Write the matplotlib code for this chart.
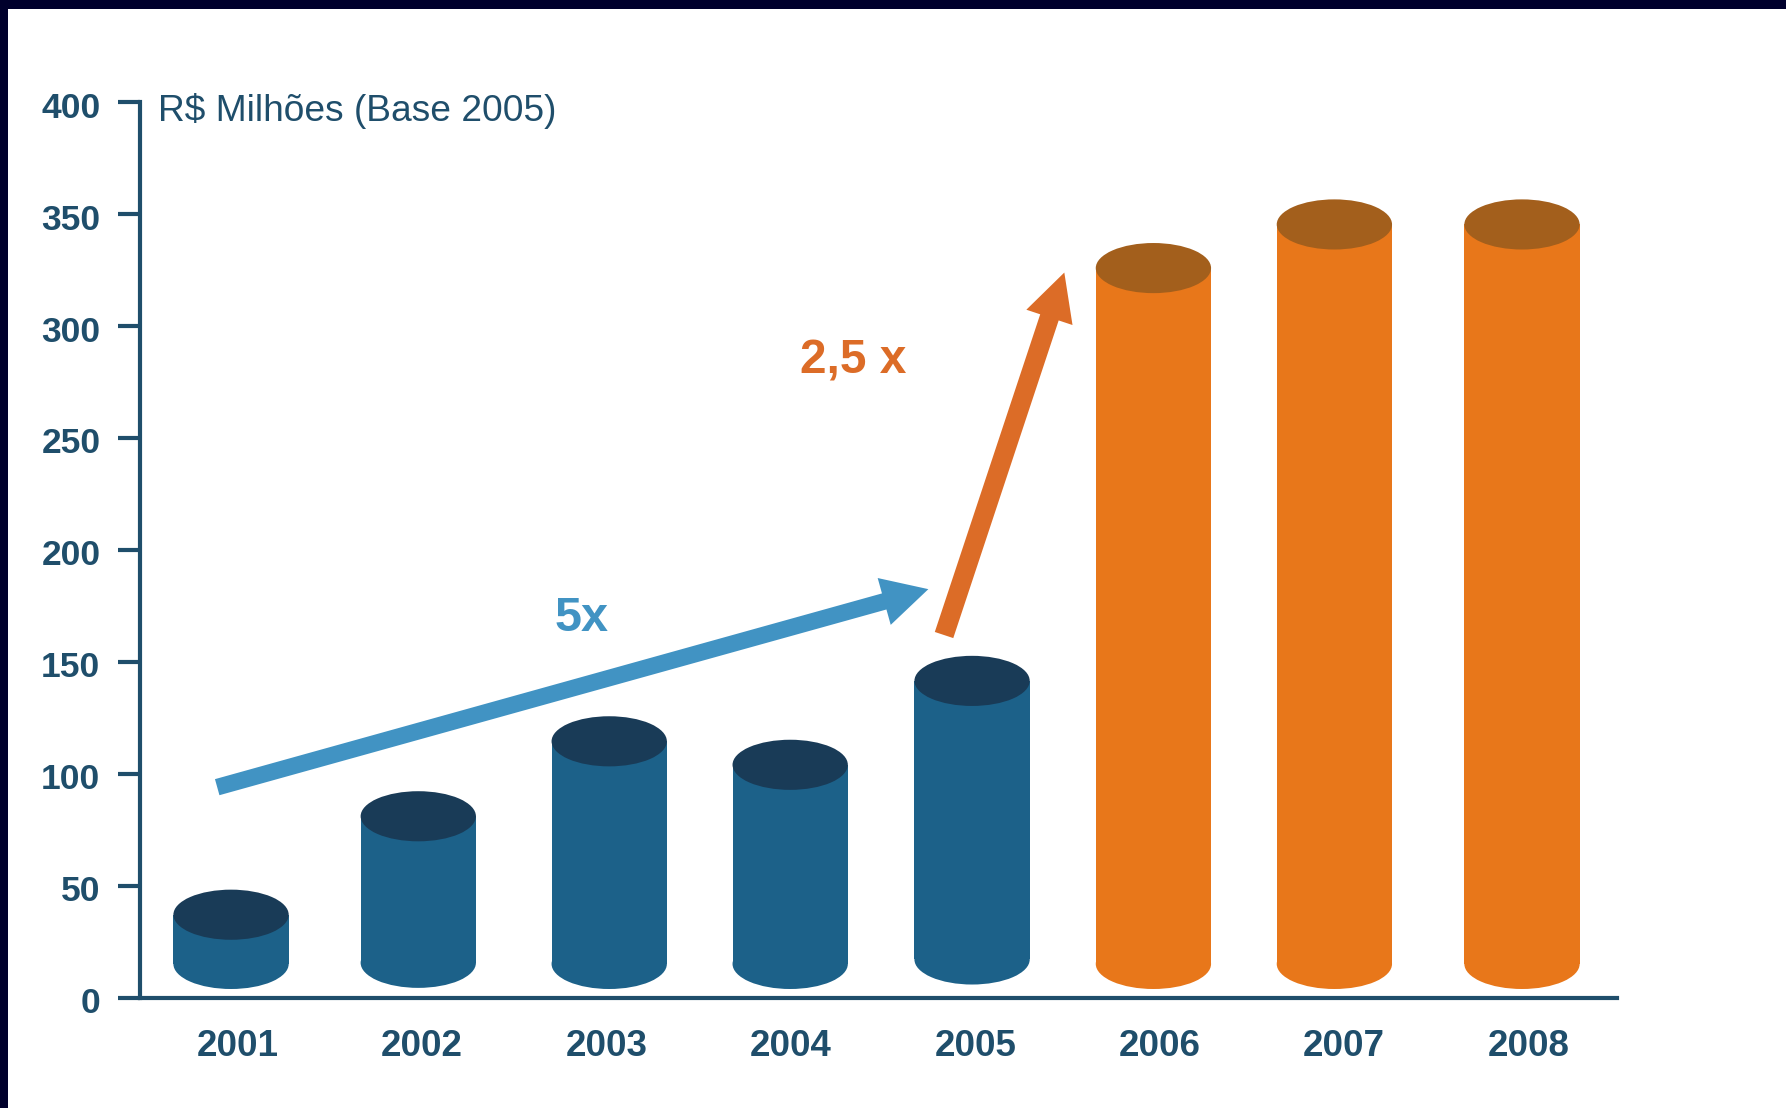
#!/usr/bin/env python

import matplotlib
matplotlib.use("Agg")
import matplotlib.pyplot as plt
from matplotlib.patches import Ellipse, Rectangle
from matplotlib.transforms import ScaledTranslation

plt.rcParams['font.family'] = ['Liberation Sans', 'DejaVu Sans']

# ----------------------------------------------------------------------
# Data
# ----------------------------------------------------------------------

years = ['2001', '2002', '2003', '2004', '2005', '2006', '2007', '2008']
values = [37, 81, 114.5, 104, 141.5, 326, 345.5, 345.5]
y_ticks = [0, 50, 100, 150, 200, 250, 300, 350, 400]

# the cylinders do not sit exactly over their labels
cyl_pos = [-0.025, -0.01, 0.025, 0.006, -0.008, -0.025, -0.044, -0.027]
cyl_base = [15, 15.5, 15, 15, 17, 15, 15, 15]

blue_arrow = [(-0.1, 94), (3.755, 182.5)]
orange_arrow = [(3.84, 162), (4.492, 324)]

dark_text = '#1F4E6B'
body_blue = '#1C6189'
top_blue = '#193B57'
body_orange = '#E8771A'
top_orange = '#A35F1C'
arrow_blue = '#4193C3'
arrow_orange = '#DC6C27'
frame = '#00002C'

W, H = 1786, 1108

fig = plt.figure(figsize=(W / 100, H / 100), dpi=100, facecolor='white')

# dark frame on top and left
fig.add_artist(Rectangle((0, 1 - 9 / H), 1, 9 / H, transform=fig.transFigure,
                         color=frame, lw=0))
fig.add_artist(Rectangle((0, 0), 8 / W, 1, transform=fig.transFigure,
                         color=frame, lw=0))

ax = fig.add_axes([140 / W, 1 - 997.5 / H, (1617 - 140) / W, (997.5 - 102.5) / H])
ax.set_xlim(-0.5185, 7.488)
ax.set_ylim(0, 400)
ax.patch.set_alpha(0)

for name in ['top', 'right']:
    ax.spines[name].set_visible(False)
for name in ['left', 'bottom']:
    ax.spines[name].set_color(dark_text)
    ax.spines[name].set_linewidth(3)

ell_w = 0.625
ell_h = 22.4

for i in range(len(years)):
    if i < 5:
        c_body, c_top = body_blue, top_blue
    else:
        c_body, c_top = body_orange, top_orange
    x = i + cyl_pos[i]
    ax.bar(x, values[i] - cyl_base[i], width=ell_w, bottom=cyl_base[i],
           color=c_body, linewidth=0, zorder=2)
    ax.add_patch(Ellipse((x, cyl_base[i]), ell_w, ell_h, color=c_body, lw=0, zorder=2))
    ax.add_patch(Ellipse((x, values[i]), ell_w, ell_h, color=c_top, lw=0, zorder=3))

ax.set_yticks(y_ticks)
ax.set_yticklabels([str(v) for v in y_ticks], fontsize=25.5, fontweight='bold',
                   color=dark_text)
ax.set_xticks(range(len(years)))
ax.set_xticklabels(years, fontsize=26.5, fontweight='bold', color=dark_text)
ax.tick_params(axis='y', length=15.5, width=3, color=dark_text, pad=13)
ax.tick_params(axis='x', length=0, pad=22.5)

# numbers on the y axis sit a little under their ticks
down = ScaledTranslation(0, -1.7 / 72, fig.dpi_scale_trans)
for lab in ax.get_yticklabels():
    lab.set_transform(lab.get_transform() + down)
# years sit a little to the right of the category centres
right = ScaledTranslation(1.2 / 72, 0, fig.dpi_scale_trans)
for lab in ax.get_xticklabels():
    lab.set_transform(lab.get_transform() + right)

ax.annotate('', xy=blue_arrow[1], xytext=blue_arrow[0], zorder=4,
            arrowprops=dict(facecolor=arrow_blue, edgecolor='none', width=12,
                            headwidth=35, headlength=33, shrink=0))
ax.annotate('', xy=orange_arrow[1], xytext=orange_arrow[0], zorder=4,
            arrowprops=dict(facecolor=arrow_orange, edgecolor='none', width=14,
                            headwidth=35, headlength=34, shrink=0))

ax.text(1.875, 169.5, '5x', fontsize=35, fontweight='bold', color=arrow_blue,
        ha='center', va='center')
ax.text(3.345, 284.5, '2,5 x', fontsize=34.5, fontweight='bold', color=arrow_orange,
        ha='center', va='center')
ax.text(-0.42, 396, 'R$ Milhões (Base 2005)', fontsize=26.7, color=dark_text,
        ha='left', va='center')

fig.savefig('out.png', dpi=100)
